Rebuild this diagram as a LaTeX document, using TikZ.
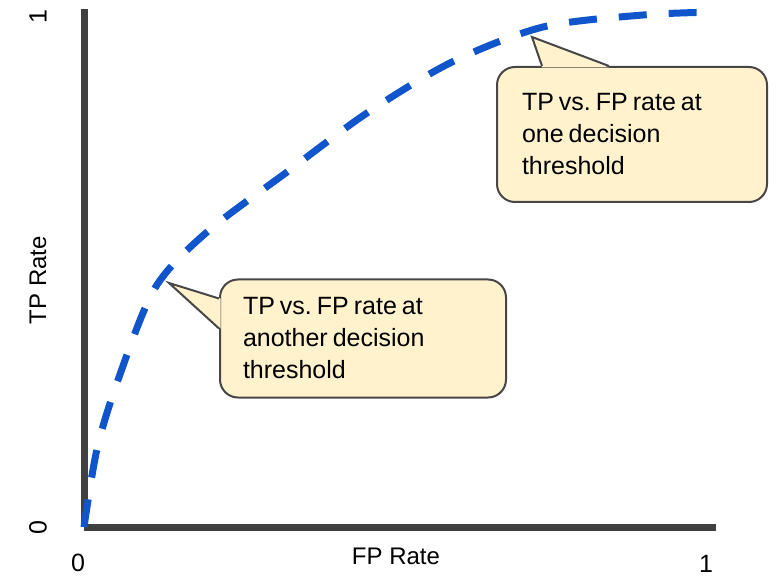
\documentclass[tikz,border=0pt]{standalone}
\usepackage{fontspec}
\setmainfont{Liberation Sans}
\usepackage{tikz}
\usetikzlibrary{calc}
\definecolor{courbe}{HTML}{1155CC}
\definecolor{axe}{HTML}{404040}
\definecolor{bulle}{HTML}{FFF2CC}
\definecolor{bord}{HTML}{474747}
\newcommand{\etiq}{\fontsize{24}{28}\selectfont}
\newcommand{\chiffre}{\fontsize{25}{30}\selectfont}

\begin{document}
\begin{tikzpicture}[x=1pt,y=-1pt,
  infobulle/.style={
    rectangle,
    rounded corners=18pt,
    fill=bulle,
    draw=bord,
    line width=2pt,
    align=left,
    font=\fontsize{25}{32}\selectfont,
    execute at begin node={\frenchspacing\spaceskip=5pt\relax}}]
  \useasboundingbox (0,0) rectangle (776,577);

  \coordinate (O) at (84,527);
  \coordinate (X1) at (716,527);
  \coordinate (Y1) at (84,9);
  \coordinate (P1) at (532,37);
  \coordinate (P2) at (169,283);

  % axes
  \draw[axe,line width=7pt] (Y1) -- (O);
  \draw[axe,line width=7pt] (O) -- (X1);

  \node[rotate=90,font=\chiffre] at (38,17) (y1) {1};
  \node[rotate=90,font=\chiffre] at (38,528) (y0) {0};
  \node[rotate=90,font=\etiq] at (38,280) (ytitre) {TP Rate};
  \node[font=\chiffre] at (78,563) (x0) {0};
  \node[font=\chiffre] at (706,563.5) (x1) {1};
  \node[font=\etiq] at (396,556) (xtitre) {FP Rate};

  % courbe ROC
  \draw[courbe,line width=7pt,dash pattern=on 28pt off 22pt]
    plot[smooth] coordinates {(84,527) (97,449) (118,380) (155,288)
      (207,232) (287,172) (367,113) (452,62) (543,27) (643,15) (716,12)};

  % bulles
  \node[
    infobulle,
    text width=220pt,
    inner xsep=25pt,
    minimum height=135pt] at (632,134.5) (haut)
    {TP vs. FP rate at\\one decision\\threshold};
  \fill[bulle] ($(haut.north west)+(46,1.5)$) -- (P1)
    -- ($(haut.north west)+(113,1.5)$) -- cycle;
  \draw[bord,line width=2pt] ($(haut.north west)+(46,0)$) -- (P1)
    -- ($(haut.north west)+(113,0)$);

  \node[
    infobulle,
    text width=240pt,
    inner xsep=23pt,
    minimum height=118pt] at (363,338.5) (bas)
    {TP vs. FP rate at\\another decision\\threshold};
  \fill[bulle] ($(bas.north west)+(1.5,20)$) -- (P2)
    -- ($(bas.north west)+(1.5,50)$) -- cycle;
  \draw[bord,line width=2pt] ($(bas.north west)+(0,20)$) -- (P2)
    -- ($(bas.north west)+(0,50)$);

\end{tikzpicture}
\end{document}
